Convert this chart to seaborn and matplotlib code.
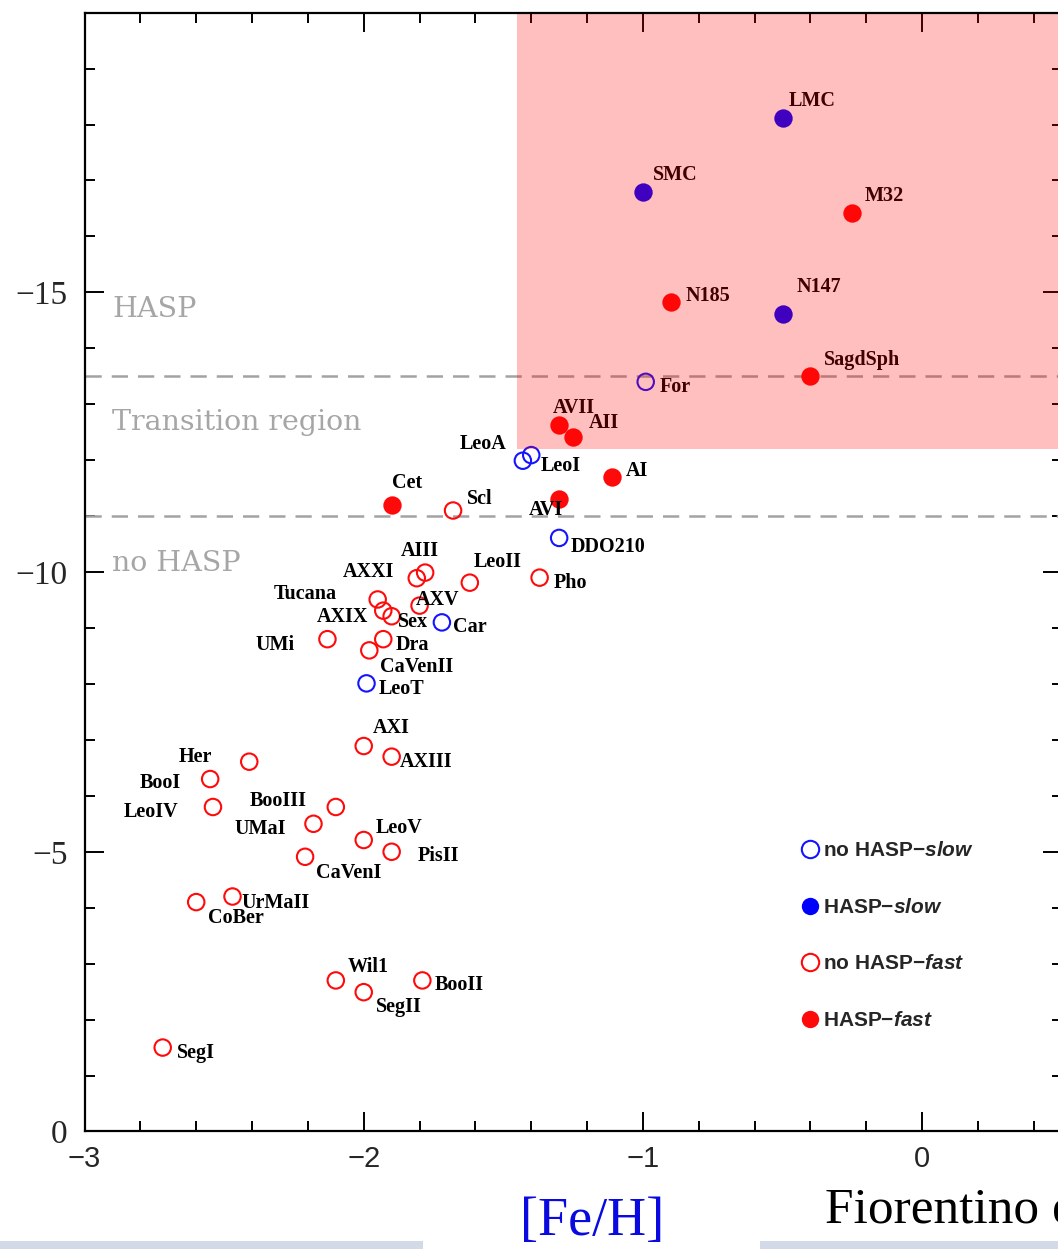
import numpy as np
import pandas as pd
import matplotlib
matplotlib.use("Agg")
import matplotlib.pyplot as plt
import seaborn as sns
from matplotlib.patches import Rectangle
from matplotlib.lines import Line2D
from matplotlib.ticker import FixedLocator, MultipleLocator

# ---------------- data ----------------
names_hasp_slow = ["LMC", "SMC", "N147"]
feh_hasp_slow = [-0.50, -1.00, -0.50]
mv_hasp_slow = [-18.11, -16.80, -14.61]

names_hasp_fast = ["M32", "N185", "SagdSph", "AVII", "AII", "AI", "AVI", "Cet"]
feh_hasp_fast = [-0.25, -0.90, -0.40, -1.30, -1.25, -1.11, -1.30, -1.90]
mv_hasp_fast = [-16.41, -14.82, -13.51, -12.62, -12.42, -11.70, -11.31, -11.19]

names_nohasp_slow = ["For", "LeoA", "LeoI", "DDO210", "Car", "LeoT"]
feh_nohasp_slow = [-0.99, -1.43, -1.40, -1.30, -1.72, -1.99]
mv_nohasp_slow = [-13.40, -11.99, -12.09, -10.61, -9.10, -8.01]

names_nohasp_fast = ["Scl", "AIII", "AXXI", "LeoII", "Pho", "Tucana", "AXIX", "Sex",
                     "AXV", "UMi", "Dra", "CaVenII", "AXI", "AXIII", "Her", "BooI",
                     "LeoIV", "BooIII", "UMaI", "LeoV", "PisII", "CaVenI", "UrMaII",
                     "CoBer", "Wil1", "SegII", "BooII", "SegI"]
feh_nohasp_fast = [-1.68, -1.78, -1.81, -1.62, -1.37, -1.95, -1.93, -1.90,
                   -1.80, -2.13, -1.93, -1.98, -2.00, -1.90, -2.41, -2.55,
                   -2.54, -2.10, -2.18, -2.00, -1.90, -2.21, -2.47,
                   -2.60, -2.10, -2.00, -1.79, -2.72]
mv_nohasp_fast = [-11.10, -9.99, -9.89, -9.81, -9.90, -9.51, -9.31, -9.21,
                  -9.40, -8.80, -8.80, -8.60, -6.89, -6.70, -6.61, -6.30,
                  -5.80, -5.80, -5.50, -5.21, -5.00, -4.91, -4.20,
                  -4.10, -2.70, -2.49, -2.70, -1.50]

legend_labels = [r"no HASP$-\mathit{slow}$", r"HASP$-\mathit{slow}$",
                 r"no HASP$-\mathit{fast}$", r"HASP$-\mathit{fast}$"]
region_labels = ["HASP", "Transition region", "no HASP"]
xtick_vals = [-3, -2, -1, 0]
ytick_vals = [0, -5, -10, -15]

# label offsets (pixels, relative to the point)
label_offsets = {
    "LMC": (30, 17), "SMC": (32, 17), "N147": (36, 27), "M32": (32, 17),
    "N185": (37, 6), "SagdSph": (52, 16), "AVII": (15, 17), "AII": (31, 14),
    "AI": (25, 6), "AVI": (-13, -11), "Cet": (15, 22), "For": (30, -5),
    "LeoA": (-40, 17), "LeoI": (30, -11), "DDO210": (49, -9), "Car": (28, -5),
    "LeoT": (35, -6), "Scl": (27, 12), "AIII": (-5, 22), "AXXI": (-48, 6),
    "LeoII": (28, 21), "Pho": (31, -5), "Tucana": (-72, 5), "AXIX": (-41, -6),
    "Sex": (21, -6), "AXV": (18, 6), "UMi": (-52, -6), "Dra": (29, -6),
    "CaVenII": (47, -17), "AXI": (28, 18), "AXIII": (34, -5), "Her": (-54, 5),
    "BooI": (-50, -4), "LeoIV": (-62, -5), "BooIII": (-58, 6), "UMaI": (-53, -5),
    "LeoV": (35, 12), "PisII": (47, -4), "CaVenI": (44, -16), "UrMaII": (43, -6),
    "CoBer": (40, -16), "Wil1": (32, 13), "SegII": (35, -15), "BooII": (37, -5),
    "SegI": (33, -5),
}

# ---------------- style ----------------
sns.set_style("ticks")
plt.rcParams["font.family"] = ["Liberation Serif", "DejaVu Sans"]
plt.rcParams["mathtext.fontset"] = "custom"
plt.rcParams["mathtext.rm"] = "Liberation Sans:bold"
plt.rcParams["mathtext.it"] = "Liberation Sans:italic:bold"
plt.rcParams["mathtext.bf"] = "Liberation Sans:bold"

RED = "#ff0a0a"
BLUE_OPEN = "#1414ff"
BLUE_FILL = "#0000ff"

frames = []
for grp, nm, fx, my in [("hasp_slow", names_hasp_slow, feh_hasp_slow, mv_hasp_slow),
                        ("hasp_fast", names_hasp_fast, feh_hasp_fast, mv_hasp_fast),
                        ("nohasp_slow", names_nohasp_slow, feh_nohasp_slow, mv_nohasp_slow),
                        ("nohasp_fast", names_nohasp_fast, feh_nohasp_fast, mv_nohasp_fast)]:
    frames.append(pd.DataFrame({"name": nm, "feh": fx, "mv": my, "group": grp}))
df = pd.concat(frames, ignore_index=True)

fig = plt.figure(figsize=(10.58, 12.49), dpi=100)
fig.patch.set_facecolor("white")
ax = fig.add_axes([0.0799, 0.0941, 0.9236, 0.8958])

# region separators
for yv in [-13.5, -11.0]:
    ax.axhline(yv, color="#a3a3a3", lw=1.8, ls=(0, (6.5, 4.0)), zorder=1)

group_styles = {
    "hasp_slow": (BLUE_FILL, True),
    "hasp_fast": (RED, True),
    "nohasp_slow": (BLUE_OPEN, False),
    "nohasp_fast": (RED, False),
}
for grp, (col, filled) in group_styles.items():
    sub = df[df["group"] == grp]
    sns.scatterplot(data=sub, x="feh", y="mv", ax=ax, color=col,
                    s=(175 if filled else 140), linewidth=0, legend=False, zorder=4)
    coll = ax.collections[-1]
    if not filled:
        coll.set_facecolor("none")
        coll.set_edgecolor(col)
        coll.set_linewidth(1.5)

for _, row in df.iterrows():
    dx, dy = label_offsets.get(row["name"], (25, 0))
    ax.annotate(row["name"], (row["feh"], row["mv"]), xytext=(dx, dy),
                textcoords="offset pixels", ha="center", va="center",
                fontsize=14.5, fontweight="bold", family="Liberation Serif",
                color="black", zorder=5)

# region captions
for lab, yv in zip(region_labels, [-14.69, -12.67, -10.16]):
    ax.text(-2.90, yv, lab, color="#a6a6a6", fontsize=20.5, family="DejaVu Serif",
            ha="left", va="center", zorder=3)

# legend
handles = [
    Line2D([], [], marker="o", ls="none", markersize=12.5, markerfacecolor="none",
           markeredgecolor=BLUE_OPEN, markeredgewidth=1.5),
    Line2D([], [], marker="o", ls="none", markersize=12.5, markerfacecolor=BLUE_FILL,
           markeredgewidth=0),
    Line2D([], [], marker="o", ls="none", markersize=12.5, markerfacecolor="none",
           markeredgecolor=RED, markeredgewidth=1.5),
    Line2D([], [], marker="o", ls="none", markersize=12.5, markerfacecolor=RED,
           markeredgewidth=0),
]
leg = ax.legend(handles, legend_labels, loc="center left",
                bbox_to_anchor=(-0.440, -3.5), bbox_transform=ax.transData,
                frameon=False, fontsize=15, handlelength=1.0, handletextpad=0.15,
                labelspacing=1.8, borderpad=0, borderaxespad=0)
for t in leg.get_texts():
    t.set_fontweight("bold")
    t.set_family("Liberation Sans")

# HASP region overlay (semi-transparent, drawn on top)
ax.add_patch(Rectangle((-1.45, -25), 3.0, 25 - 12.2, facecolor="red", alpha=0.25,
                       linewidth=0, zorder=20))

ax.set_xlim(-3, 0.5)
ax.set_ylim(0, -20)
ax.xaxis.set_major_locator(FixedLocator(xtick_vals))
ax.xaxis.set_minor_locator(MultipleLocator(0.2))
ax.yaxis.set_major_locator(FixedLocator(ytick_vals))
ax.yaxis.set_minor_locator(MultipleLocator(1))
ax.set_xticklabels([f"\u2212{abs(v)}" if v < 0 else f"{v}" for v in xtick_vals])
ax.set_yticklabels([f"\u2212{abs(v)}" if v < 0 else f"{v}" for v in ytick_vals])
ax.tick_params(which="both", direction="in", top=True, right=True, width=1.4,
               color="black")
ax.tick_params(which="major", length=13.5)
ax.tick_params(which="minor", length=7)
ax.tick_params(axis="y", which="major", pad=12, labelsize=24)
ax.tick_params(axis="x", which="major", pad=10, labelsize=21)
for t in ax.get_yticklabels():
    t.set_family("Liberation Serif")
for t in ax.get_xticklabels():
    t.set_family(["Liberation Sans Narrow", "Liberation Sans"])
for sp in ax.spines.values():
    sp.set_linewidth(1.6)
    sp.set_color("black")
    sp.set_zorder(30)
ax.set_ylabel("")
ax.set_xlabel("[Fe/H]", color="#0a0ae0", fontsize=39, family="Liberation Serif")
ax.xaxis.set_label_coords(0.519, -0.058)

# slide decorations at bottom
fig.text(825 / 1058, (1249 - 1224) / 1249, "Fiorentino et al. 2015", fontsize=37,
         family="Liberation Serif", color="black", va="baseline", ha="left")
fig.patches.append(Rectangle((0, 0), 423 / 1058, 8 / 1249, transform=fig.transFigure,
                             facecolor="#d4d9e8", edgecolor="none", zorder=0))
fig.patches.append(Rectangle((760 / 1058, 0), 1 - 760 / 1058, 8 / 1249,
                             transform=fig.transFigure, facecolor="#d4d9e8",
                             edgecolor="none", zorder=0))

fig.savefig("out.png", dpi=100, facecolor="white")
